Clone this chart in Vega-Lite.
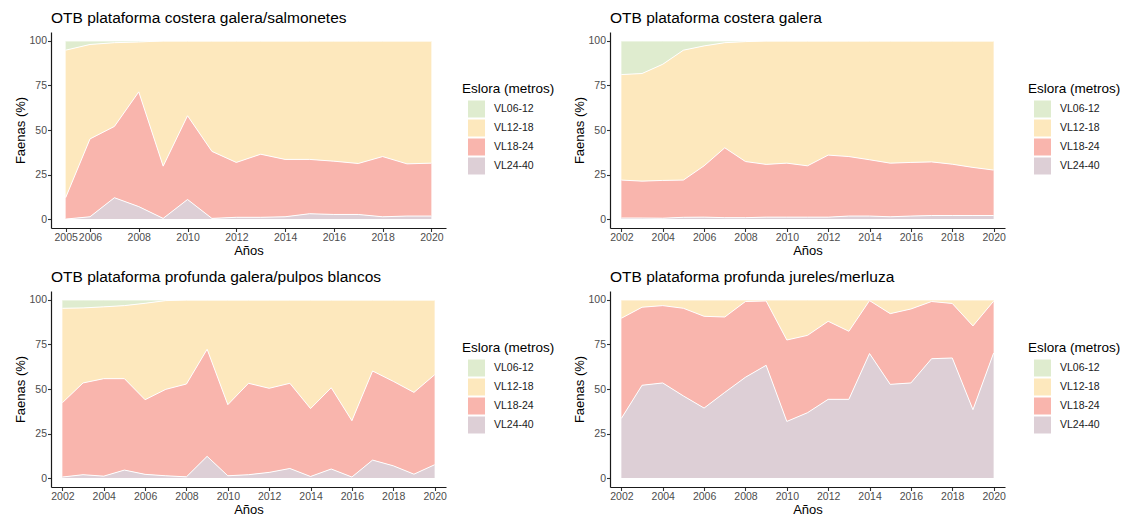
{
"$schema": "https://vega.github.io/schema/vega-lite/v6.json",
"background": "white",
"padding": {"left": 14, "top": 10, "right": 5, "bottom": 0},
"config": {
 "font": "Liberation Sans",
 "view": {"stroke": null},
 "axis": {"domainColor": "#1a1a1a", "domainWidth": 1.2, "tickColor": "#333333", "tickSize": 3.5, "tickWidth": 1.1, "labelColor": "#4d4d4d", "labelFontSize": 10.5, "labelPadding": 1, "labelOverlap": false, "labelFlush": false, "titleFontSize": 13, "titleFontWeight": "normal", "titleColor": "#000000", "titlePadding": 1, "grid": false},
 "legend": {"titleFontSize": 13.5, "titleFontWeight": "normal", "titleColor": "#000000", "labelFontSize": 10.5, "labelColor": "#1a1a1a", "symbolType": "square", "symbolSize": 289, "symbolStrokeWidth": 0, "symbolOpacity": 1, "symbolOffset": 6, "rowPadding": 2, "titlePadding": 5, "labelOffset": 9},
 "title": {"fontSize": 15.5, "fontWeight": "normal", "anchor": "start", "frame": "group", "color": "#000000", "offset": 6}
},
"datasets": {
 "p1": [
  {"anio":2005,"eslora":"VL06-12","pct":5.2},{"anio":2005,"eslora":"VL12-18","pct":82.8},{"anio":2005,"eslora":"VL18-24","pct":12},{"anio":2005,"eslora":"VL24-40","pct":0},
  {"anio":2006,"eslora":"VL06-12","pct":2},{"anio":2006,"eslora":"VL12-18","pct":53},{"anio":2006,"eslora":"VL18-24","pct":43.7},{"anio":2006,"eslora":"VL24-40","pct":1.3},
  {"anio":2007,"eslora":"VL06-12","pct":1},{"anio":2007,"eslora":"VL12-18","pct":47},{"anio":2007,"eslora":"VL18-24","pct":40},{"anio":2007,"eslora":"VL24-40","pct":12},
  {"anio":2008,"eslora":"VL06-12","pct":0.6},{"anio":2008,"eslora":"VL12-18","pct":28},{"anio":2008,"eslora":"VL18-24","pct":64.4},{"anio":2008,"eslora":"VL24-40","pct":7},
  {"anio":2009,"eslora":"VL06-12","pct":0},{"anio":2009,"eslora":"VL12-18","pct":70.3},{"anio":2009,"eslora":"VL18-24","pct":29.3},{"anio":2009,"eslora":"VL24-40","pct":0.4},
  {"anio":2010,"eslora":"VL06-12","pct":0},{"anio":2010,"eslora":"VL12-18","pct":42},{"anio":2010,"eslora":"VL18-24","pct":47},{"anio":2010,"eslora":"VL24-40","pct":11},
  {"anio":2011,"eslora":"VL06-12","pct":0},{"anio":2011,"eslora":"VL12-18","pct":62},{"anio":2011,"eslora":"VL18-24","pct":37.6},{"anio":2011,"eslora":"VL24-40","pct":0.4},
  {"anio":2012,"eslora":"VL06-12","pct":0},{"anio":2012,"eslora":"VL12-18","pct":68.2},{"anio":2012,"eslora":"VL18-24","pct":30.8},{"anio":2012,"eslora":"VL24-40","pct":1},
  {"anio":2013,"eslora":"VL06-12","pct":0},{"anio":2013,"eslora":"VL12-18","pct":63.6},{"anio":2013,"eslora":"VL18-24","pct":35.4},{"anio":2013,"eslora":"VL24-40","pct":1},
  {"anio":2014,"eslora":"VL06-12","pct":0},{"anio":2014,"eslora":"VL12-18","pct":66.5},{"anio":2014,"eslora":"VL18-24","pct":32.2},{"anio":2014,"eslora":"VL24-40","pct":1.3},
  {"anio":2015,"eslora":"VL06-12","pct":0},{"anio":2015,"eslora":"VL12-18","pct":66.5},{"anio":2015,"eslora":"VL18-24","pct":30.5},{"anio":2015,"eslora":"VL24-40","pct":3},
  {"anio":2016,"eslora":"VL06-12","pct":0},{"anio":2016,"eslora":"VL12-18","pct":67.5},{"anio":2016,"eslora":"VL18-24","pct":29.9},{"anio":2016,"eslora":"VL24-40","pct":2.6},
  {"anio":2017,"eslora":"VL06-12","pct":0},{"anio":2017,"eslora":"VL12-18","pct":68.8},{"anio":2017,"eslora":"VL18-24","pct":28.6},{"anio":2017,"eslora":"VL24-40","pct":2.6},
  {"anio":2018,"eslora":"VL06-12","pct":0},{"anio":2018,"eslora":"VL12-18","pct":64.9},{"anio":2018,"eslora":"VL18-24","pct":33.8},{"anio":2018,"eslora":"VL24-40","pct":1.3},
  {"anio":2019,"eslora":"VL06-12","pct":0},{"anio":2019,"eslora":"VL12-18","pct":69},{"anio":2019,"eslora":"VL18-24","pct":29.3},{"anio":2019,"eslora":"VL24-40","pct":1.7},
  {"anio":2020,"eslora":"VL06-12","pct":0},{"anio":2020,"eslora":"VL12-18","pct":68.6},{"anio":2020,"eslora":"VL18-24","pct":29.7},{"anio":2020,"eslora":"VL24-40","pct":1.7}
 ],
 "p2": [
  {"anio":2002,"eslora":"VL06-12","pct":18.9},{"anio":2002,"eslora":"VL12-18","pct":59.2},{"anio":2002,"eslora":"VL18-24","pct":21.3},{"anio":2002,"eslora":"VL24-40","pct":0.6},
  {"anio":2003,"eslora":"VL06-12","pct":18.3},{"anio":2003,"eslora":"VL12-18","pct":60.4},{"anio":2003,"eslora":"VL18-24","pct":20.7},{"anio":2003,"eslora":"VL24-40","pct":0.6},
  {"anio":2004,"eslora":"VL06-12","pct":13.1},{"anio":2004,"eslora":"VL12-18","pct":65.2},{"anio":2004,"eslora":"VL18-24","pct":21.2},{"anio":2004,"eslora":"VL24-40","pct":0.5},
  {"anio":2005,"eslora":"VL06-12","pct":5.2},{"anio":2005,"eslora":"VL12-18","pct":72.9},{"anio":2005,"eslora":"VL18-24","pct":20.9},{"anio":2005,"eslora":"VL24-40","pct":1},
  {"anio":2006,"eslora":"VL06-12","pct":2.8},{"anio":2006,"eslora":"VL12-18","pct":67.3},{"anio":2006,"eslora":"VL18-24","pct":28.8},{"anio":2006,"eslora":"VL24-40","pct":1.1},
  {"anio":2007,"eslora":"VL06-12","pct":1},{"anio":2007,"eslora":"VL12-18","pct":59},{"anio":2007,"eslora":"VL18-24","pct":39.2},{"anio":2007,"eslora":"VL24-40","pct":0.8},
  {"anio":2008,"eslora":"VL06-12","pct":0.4},{"anio":2008,"eslora":"VL12-18","pct":67.3},{"anio":2008,"eslora":"VL18-24","pct":31.5},{"anio":2008,"eslora":"VL24-40","pct":0.8},
  {"anio":2009,"eslora":"VL06-12","pct":0},{"anio":2009,"eslora":"VL12-18","pct":69.3},{"anio":2009,"eslora":"VL18-24","pct":29.6},{"anio":2009,"eslora":"VL24-40","pct":1.1},
  {"anio":2010,"eslora":"VL06-12","pct":0},{"anio":2010,"eslora":"VL12-18","pct":68.6},{"anio":2010,"eslora":"VL18-24","pct":30.3},{"anio":2010,"eslora":"VL24-40","pct":1.1},
  {"anio":2011,"eslora":"VL06-12","pct":0},{"anio":2011,"eslora":"VL12-18","pct":70.1},{"anio":2011,"eslora":"VL18-24","pct":28.8},{"anio":2011,"eslora":"VL24-40","pct":1.1},
  {"anio":2012,"eslora":"VL06-12","pct":0},{"anio":2012,"eslora":"VL12-18","pct":64.1},{"anio":2012,"eslora":"VL18-24","pct":34.8},{"anio":2012,"eslora":"VL24-40","pct":1.1},
  {"anio":2013,"eslora":"VL06-12","pct":0},{"anio":2013,"eslora":"VL12-18","pct":64.9},{"anio":2013,"eslora":"VL18-24","pct":33.4},{"anio":2013,"eslora":"VL24-40","pct":1.7},
  {"anio":2014,"eslora":"VL06-12","pct":0},{"anio":2014,"eslora":"VL12-18","pct":66.7},{"anio":2014,"eslora":"VL18-24","pct":31.6},{"anio":2014,"eslora":"VL24-40","pct":1.7},
  {"anio":2015,"eslora":"VL06-12","pct":0},{"anio":2015,"eslora":"VL12-18","pct":68.6},{"anio":2015,"eslora":"VL18-24","pct":30.1},{"anio":2015,"eslora":"VL24-40","pct":1.3},
  {"anio":2016,"eslora":"VL06-12","pct":0},{"anio":2016,"eslora":"VL12-18","pct":68.2},{"anio":2016,"eslora":"VL18-24","pct":30.1},{"anio":2016,"eslora":"VL24-40","pct":1.7},
  {"anio":2017,"eslora":"VL06-12","pct":0},{"anio":2017,"eslora":"VL12-18","pct":67.9},{"anio":2017,"eslora":"VL18-24","pct":30.1},{"anio":2017,"eslora":"VL24-40","pct":2},
  {"anio":2018,"eslora":"VL06-12","pct":0},{"anio":2018,"eslora":"VL12-18","pct":69.2},{"anio":2018,"eslora":"VL18-24","pct":28.8},{"anio":2018,"eslora":"VL24-40","pct":2},
  {"anio":2019,"eslora":"VL06-12","pct":0},{"anio":2019,"eslora":"VL12-18","pct":71},{"anio":2019,"eslora":"VL18-24","pct":27},{"anio":2019,"eslora":"VL24-40","pct":2},
  {"anio":2020,"eslora":"VL06-12","pct":0},{"anio":2020,"eslora":"VL12-18","pct":72.5},{"anio":2020,"eslora":"VL18-24","pct":25.5},{"anio":2020,"eslora":"VL24-40","pct":2}
 ],
 "p3": [
  {"anio":2002,"eslora":"VL06-12","pct":4.7},{"anio":2002,"eslora":"VL12-18","pct":53},{"anio":2002,"eslora":"VL18-24","pct":41.7},{"anio":2002,"eslora":"VL24-40","pct":0.6},
  {"anio":2003,"eslora":"VL06-12","pct":4.5},{"anio":2003,"eslora":"VL12-18","pct":42.1},{"anio":2003,"eslora":"VL18-24","pct":51.5},{"anio":2003,"eslora":"VL24-40","pct":1.9},
  {"anio":2004,"eslora":"VL06-12","pct":3.9},{"anio":2004,"eslora":"VL12-18","pct":40.3},{"anio":2004,"eslora":"VL18-24","pct":54.7},{"anio":2004,"eslora":"VL24-40","pct":1.1},
  {"anio":2005,"eslora":"VL06-12","pct":3.2},{"anio":2005,"eslora":"VL12-18","pct":41},{"anio":2005,"eslora":"VL18-24","pct":51.3},{"anio":2005,"eslora":"VL24-40","pct":4.5},
  {"anio":2006,"eslora":"VL06-12","pct":1.9},{"anio":2006,"eslora":"VL12-18","pct":54.1},{"anio":2006,"eslora":"VL18-24","pct":41.9},{"anio":2006,"eslora":"VL24-40","pct":2.1},
  {"anio":2007,"eslora":"VL06-12","pct":0.4},{"anio":2007,"eslora":"VL12-18","pct":49.8},{"anio":2007,"eslora":"VL18-24","pct":48.5},{"anio":2007,"eslora":"VL24-40","pct":1.3},
  {"anio":2008,"eslora":"VL06-12","pct":0},{"anio":2008,"eslora":"VL12-18","pct":47.2},{"anio":2008,"eslora":"VL18-24","pct":52.1},{"anio":2008,"eslora":"VL24-40","pct":0.7},
  {"anio":2009,"eslora":"VL06-12","pct":0},{"anio":2009,"eslora":"VL12-18","pct":27.7},{"anio":2009,"eslora":"VL18-24","pct":60.1},{"anio":2009,"eslora":"VL24-40","pct":12.2},
  {"anio":2010,"eslora":"VL06-12","pct":0},{"anio":2010,"eslora":"VL12-18","pct":58.8},{"anio":2010,"eslora":"VL18-24","pct":39.9},{"anio":2010,"eslora":"VL24-40","pct":1.3},
  {"anio":2011,"eslora":"VL06-12","pct":0},{"anio":2011,"eslora":"VL12-18","pct":46.8},{"anio":2011,"eslora":"VL18-24","pct":51.3},{"anio":2011,"eslora":"VL24-40","pct":1.9},
  {"anio":2012,"eslora":"VL06-12","pct":0},{"anio":2012,"eslora":"VL12-18","pct":49.6},{"anio":2012,"eslora":"VL18-24","pct":47.2},{"anio":2012,"eslora":"VL24-40","pct":3.2},
  {"anio":2013,"eslora":"VL06-12","pct":0},{"anio":2013,"eslora":"VL12-18","pct":46.8},{"anio":2013,"eslora":"VL18-24","pct":47.8},{"anio":2013,"eslora":"VL24-40","pct":5.4},
  {"anio":2014,"eslora":"VL06-12","pct":0},{"anio":2014,"eslora":"VL12-18","pct":61},{"anio":2014,"eslora":"VL18-24","pct":38.1},{"anio":2014,"eslora":"VL24-40","pct":0.9},
  {"anio":2015,"eslora":"VL06-12","pct":0},{"anio":2015,"eslora":"VL12-18","pct":49.3},{"anio":2015,"eslora":"VL18-24","pct":45.6},{"anio":2015,"eslora":"VL24-40","pct":5.1},
  {"anio":2016,"eslora":"VL06-12","pct":0},{"anio":2016,"eslora":"VL12-18","pct":67.8},{"anio":2016,"eslora":"VL18-24","pct":31.6},{"anio":2016,"eslora":"VL24-40","pct":0.6},
  {"anio":2017,"eslora":"VL06-12","pct":0},{"anio":2017,"eslora":"VL12-18","pct":39.9},{"anio":2017,"eslora":"VL18-24","pct":50},{"anio":2017,"eslora":"VL24-40","pct":10.1},
  {"anio":2018,"eslora":"VL06-12","pct":0},{"anio":2018,"eslora":"VL12-18","pct":45.7},{"anio":2018,"eslora":"VL18-24","pct":47.4},{"anio":2018,"eslora":"VL24-40","pct":6.9},
  {"anio":2019,"eslora":"VL06-12","pct":0},{"anio":2019,"eslora":"VL12-18","pct":51.9},{"anio":2019,"eslora":"VL18-24","pct":45.9},{"anio":2019,"eslora":"VL24-40","pct":2.2},
  {"anio":2020,"eslora":"VL06-12","pct":0},{"anio":2020,"eslora":"VL12-18","pct":42},{"anio":2020,"eslora":"VL18-24","pct":50.5},{"anio":2020,"eslora":"VL24-40","pct":7.5}
 ],
 "p4": [
  {"anio":2002,"eslora":"VL12-18","pct":10.3},{"anio":2002,"eslora":"VL18-24","pct":56.2},{"anio":2002,"eslora":"VL24-40","pct":33.5},
  {"anio":2003,"eslora":"VL12-18","pct":4.1},{"anio":2003,"eslora":"VL18-24","pct":43.8},{"anio":2003,"eslora":"VL24-40","pct":52.1},
  {"anio":2004,"eslora":"VL12-18","pct":3.2},{"anio":2004,"eslora":"VL18-24","pct":43.4},{"anio":2004,"eslora":"VL24-40","pct":53.4},
  {"anio":2005,"eslora":"VL12-18","pct":4.7},{"anio":2005,"eslora":"VL18-24","pct":49.2},{"anio":2005,"eslora":"VL24-40","pct":46.1},
  {"anio":2006,"eslora":"VL12-18","pct":9.2},{"anio":2006,"eslora":"VL18-24","pct":51.5},{"anio":2006,"eslora":"VL24-40","pct":39.3},
  {"anio":2007,"eslora":"VL12-18","pct":9.6},{"anio":2007,"eslora":"VL18-24","pct":42.3},{"anio":2007,"eslora":"VL24-40","pct":48.1},
  {"anio":2008,"eslora":"VL12-18","pct":0.9},{"anio":2008,"eslora":"VL18-24","pct":42.5},{"anio":2008,"eslora":"VL24-40","pct":56.6},
  {"anio":2009,"eslora":"VL12-18","pct":0.6},{"anio":2009,"eslora":"VL18-24","pct":36.1},{"anio":2009,"eslora":"VL24-40","pct":63.3},
  {"anio":2010,"eslora":"VL12-18","pct":22.5},{"anio":2010,"eslora":"VL18-24","pct":45.7},{"anio":2010,"eslora":"VL24-40","pct":31.8},
  {"anio":2011,"eslora":"VL12-18","pct":19.9},{"anio":2011,"eslora":"VL18-24","pct":43.4},{"anio":2011,"eslora":"VL24-40","pct":36.7},
  {"anio":2012,"eslora":"VL12-18","pct":12},{"anio":2012,"eslora":"VL18-24","pct":43.8},{"anio":2012,"eslora":"VL24-40","pct":44.2},
  {"anio":2013,"eslora":"VL12-18","pct":17.6},{"anio":2013,"eslora":"VL18-24","pct":38.2},{"anio":2013,"eslora":"VL24-40","pct":44.2},
  {"anio":2014,"eslora":"VL12-18","pct":0.4},{"anio":2014,"eslora":"VL18-24","pct":29.7},{"anio":2014,"eslora":"VL24-40","pct":69.9},
  {"anio":2015,"eslora":"VL12-18","pct":7.7},{"anio":2015,"eslora":"VL18-24","pct":39.7},{"anio":2015,"eslora":"VL24-40","pct":52.6},
  {"anio":2016,"eslora":"VL12-18","pct":5.1},{"anio":2016,"eslora":"VL18-24","pct":41.5},{"anio":2016,"eslora":"VL24-40","pct":53.4},
  {"anio":2017,"eslora":"VL12-18","pct":0.9},{"anio":2017,"eslora":"VL18-24","pct":32.1},{"anio":2017,"eslora":"VL24-40","pct":67},
  {"anio":2018,"eslora":"VL12-18","pct":2},{"anio":2018,"eslora":"VL18-24","pct":30.6},{"anio":2018,"eslora":"VL24-40","pct":67.4},
  {"anio":2019,"eslora":"VL12-18","pct":14.6},{"anio":2019,"eslora":"VL18-24","pct":47},{"anio":2019,"eslora":"VL24-40","pct":38.4},
  {"anio":2020,"eslora":"VL12-18","pct":0.7},{"anio":2020,"eslora":"VL18-24","pct":29.1},{"anio":2020,"eslora":"VL24-40","pct":70.2}
 ]
},
"columns": 2,
"spacing": {"row": 12, "column": 18},
"resolve": {"scale": {"x": "independent", "y": "independent", "color": "independent"}, "legend": {"color": "independent"}},
"concat": [
 {
  "title": "OTB plataforma costera galera/salmonetes",
  "width": 395, "height": 196,
  "data": {"name": "p1"},
  "encoding": {
   "x": {"field": "anio", "type": "quantitative", "scale": {"domain": [2004.4, 2020.6], "nice": false, "zero": false}, "axis": {"title": "Años", "values": [2005, 2006, 2008, 2010, 2012, 2014, 2016, 2018, 2020], "format": "d"}},
   "y": {"field": "pct", "type": "quantitative", "stack": "zero", "scale": {"domain": [-5, 105], "nice": false}, "axis": {"title": "Faenas (%)", "values": [0, 25, 50, 75, 100]}}
  },
  "layer": [
   {"mark": {"type": "area", "opacity": 1}, "encoding": {"color": {"field": "eslora", "type": "nominal", "title": "Eslora (metros)", "scale": {"domain": ["VL06-12", "VL12-18", "VL18-24", "VL24-40"], "range": ["#dfeccf", "#fde8bd", "#f9b5ad", "#ddcfd6"]}, "legend": {"orient": "none", "legendX": 411, "legendY": 50}}}},
   {"mark": {"type": "line", "color": "white", "strokeWidth": 1}, "encoding": {"detail": {"field": "eslora", "type": "nominal"}}}
  ]
 },
 {
  "title": "OTB plataforma costera galera",
  "width": 395, "height": 196,
  "data": {"name": "p2"},
  "encoding": {
   "x": {"field": "anio", "type": "quantitative", "scale": {"domain": [2001.45, 2020.55], "nice": false, "zero": false}, "axis": {"title": "Años", "values": [2002, 2004, 2006, 2008, 2010, 2012, 2014, 2016, 2018, 2020], "format": "d"}},
   "y": {"field": "pct", "type": "quantitative", "stack": "zero", "scale": {"domain": [-5, 105], "nice": false}, "axis": {"title": "Faenas (%)", "values": [0, 25, 50, 75, 100]}}
  },
  "layer": [
   {"mark": {"type": "area", "opacity": 1}, "encoding": {"color": {"field": "eslora", "type": "nominal", "title": "Eslora (metros)", "scale": {"domain": ["VL06-12", "VL12-18", "VL18-24", "VL24-40"], "range": ["#dfeccf", "#fde8bd", "#f9b5ad", "#ddcfd6"]}, "legend": {"orient": "none", "legendX": 418, "legendY": 50}}}},
   {"mark": {"type": "line", "color": "white", "strokeWidth": 1}, "encoding": {"detail": {"field": "eslora", "type": "nominal"}}}
  ]
 },
 {
  "title": "OTB plataforma profunda galera/pulpos blancos",
  "width": 395, "height": 196,
  "data": {"name": "p3"},
  "encoding": {
   "x": {"field": "anio", "type": "quantitative", "scale": {"domain": [2001.45, 2020.55], "nice": false, "zero": false}, "axis": {"title": "Años", "values": [2002, 2004, 2006, 2008, 2010, 2012, 2014, 2016, 2018, 2020], "format": "d"}},
   "y": {"field": "pct", "type": "quantitative", "stack": "zero", "scale": {"domain": [-5, 105], "nice": false}, "axis": {"title": "Faenas (%)", "values": [0, 25, 50, 75, 100]}}
  },
  "layer": [
   {"mark": {"type": "area", "opacity": 1}, "encoding": {"color": {"field": "eslora", "type": "nominal", "title": "Eslora (metros)", "scale": {"domain": ["VL06-12", "VL12-18", "VL18-24", "VL24-40"], "range": ["#dfeccf", "#fde8bd", "#f9b5ad", "#ddcfd6"]}, "legend": {"orient": "none", "legendX": 411, "legendY": 50}}}},
   {"mark": {"type": "line", "color": "white", "strokeWidth": 1}, "encoding": {"detail": {"field": "eslora", "type": "nominal"}}}
  ]
 },
 {
  "title": "OTB plataforma profunda jureles/merluza",
  "width": 395, "height": 196,
  "data": {"name": "p4"},
  "encoding": {
   "x": {"field": "anio", "type": "quantitative", "scale": {"domain": [2001.45, 2020.55], "nice": false, "zero": false}, "axis": {"title": "Años", "values": [2002, 2004, 2006, 2008, 2010, 2012, 2014, 2016, 2018, 2020], "format": "d"}},
   "y": {"field": "pct", "type": "quantitative", "stack": "zero", "scale": {"domain": [-5, 105], "nice": false}, "axis": {"title": "Faenas (%)", "values": [0, 25, 50, 75, 100]}}
  },
  "layer": [
   {"mark": {"type": "area", "opacity": 1}, "encoding": {"color": {"field": "eslora", "type": "nominal", "title": "Eslora (metros)", "scale": {"domain": ["VL06-12", "VL12-18", "VL18-24", "VL24-40"], "range": ["#dfeccf", "#fde8bd", "#f9b5ad", "#ddcfd6"]}, "legend": {"orient": "none", "legendX": 418, "legendY": 50}}}},
   {"mark": {"type": "line", "color": "white", "strokeWidth": 1}, "encoding": {"detail": {"field": "eslora", "type": "nominal"}}}
  ]
 }
]
}
